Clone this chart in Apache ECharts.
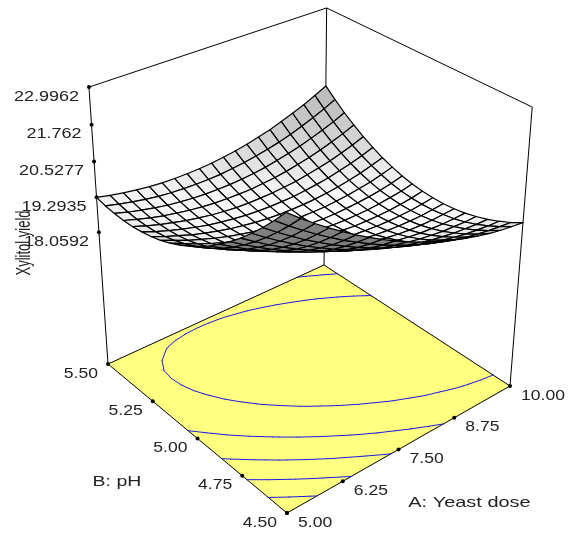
<!DOCTYPE html>
<html><head><meta charset="utf-8">
<style>html,body{margin:0;padding:0;background:#fff}#c{width:573px;height:536px}</style>
<script src="https://cdn.jsdelivr.net/npm/echarts@6/dist/echarts.min.js"></script>
</head><body><div id="c"></div>
<script>
const zTickLabels = ['18.0592','19.2935','20.5277','21.762','22.9962'];
const aTickLabels = ['5.00','6.25','7.50','8.75','10.00'];
const bTickLabels = ['4.50','4.75','5.00','5.25','5.50'];
const contourLevels = [18.82,19.70,20.53,21.35,22.17];
const zAxisFloor = 13.1226, zAxisTop = 22.9962;
// Xylitol yield: one row per pH step (4.50 -> 5.50), one column per yeast dose step (5 -> 10)
const yieldRows = [
[22.97,22.61,22.27,21.95,21.65,21.36,21.09,20.84,20.60,20.38,20.18,20.00,19.83,19.68,19.55,19.43,19.33,19.25,19.19,19.14],
[22.51,22.16,21.84,21.53,21.24,20.96,20.71,20.47,20.24,20.04,19.85,19.68,19.52,19.39,19.27,19.16,19.08,19.01,18.96,18.92],
[22.07,21.74,21.43,21.13,20.86,20.59,20.35,20.12,19.91,19.72,19.55,19.39,19.25,19.12,19.02,18.93,18.85,18.80,18.76,18.74],
[21.67,21.35,21.05,20.77,20.50,20.26,20.02,19.81,19.61,19.43,19.27,19.13,19.00,18.89,18.79,18.72,18.66,18.62,18.59,18.58],
[21.29,20.99,20.70,20.43,20.18,19.95,19.73,19.53,19.34,19.18,19.03,18.90,18.78,18.68,18.60,18.54,18.49,18.47,18.45,18.46],
[20.95,20.66,20.39,20.13,19.89,19.67,19.46,19.28,19.11,18.95,18.82,18.70,18.59,18.51,18.44,18.39,18.36,18.34,18.34,18.36],
[20.64,20.36,20.10,19.86,19.63,19.42,19.23,19.05,18.90,18.76,18.63,18.53,18.44,18.37,18.31,18.27,18.25,18.25,18.27,18.30],
[20.35,20.09,19.84,19.61,19.40,19.20,19.02,18.86,18.72,18.59,18.48,18.39,18.31,18.25,18.21,18.19,18.18,18.19,18.22,18.26],
[20.10,19.85,19.61,19.40,19.20,19.01,18.85,18.70,18.57,18.45,18.36,18.28,18.21,18.17,18.14,18.13,18.14,18.16,18.20,18.26],
[19.88,19.64,19.42,19.21,19.02,18.85,18.70,18.57,18.45,18.35,18.26,18.20,18.15,18.11,18.10,18.10,18.12,18.16,18.21,18.28],
[19.68,19.46,19.25,19.06,18.88,18.73,18.59,18.47,18.36,18.27,18.20,18.15,18.11,18.09,18.09,18.10,18.14,18.19,18.25,18.34],
[19.52,19.31,19.11,18.93,18.77,18.63,18.50,18.39,18.30,18.23,18.17,18.13,18.10,18.10,18.11,18.14,18.18,18.24,18.32,18.42],
[19.38,19.19,19.00,18.84,18.69,18.56,18.45,18.35,18.27,18.21,18.17,18.14,18.13,18.13,18.16,18.20,18.26,18.33,18.43,18.54],
[19.28,19.09,18.93,18.77,18.64,18.52,18.42,18.34,18.27,18.22,18.19,18.18,18.18,18.20,18.24,18.29,18.36,18.45,18.56,18.68],
[19.21,19.03,18.88,18.74,18.62,18.51,18.43,18.36,18.30,18.27,18.25,18.25,18.26,18.30,18.35,18.41,18.50,18.60,18.72,18.86],
[19.16,19.00,18.86,18.74,18.63,18.54,18.46,18.40,18.36,18.34,18.34,18.35,18.38,18.42,18.49,18.57,18.66,18.78,18.91,19.06],
[19.15,19.00,18.87,18.76,18.67,18.59,18.53,18.48,18.46,18.45,18.45,18.48,18.52,18.58,18.66,18.75,18.86,18.99,19.13,19.30],
[19.17,19.03,18.92,18.82,18.73,18.67,18.62,18.59,18.58,18.58,18.60,18.64,18.69,18.77,18.86,18.96,19.09,19.23,19.38,19.56],
[19.21,19.09,18.99,18.90,18.83,18.78,18.75,18.73,18.73,18.74,18.78,18.83,18.90,18.98,19.08,19.20,19.34,19.50,19.67,19.86],
[19.29,19.18,19.09,19.02,18.96,18.92,18.90,18.90,18.91,18.94,18.99,19.05,19.13,19.23,19.34,19.48,19.63,19.79,19.98,20.18]
];

const N = yieldRows.length - 1;
const wOf = z => (z - zAxisFloor) / (zAxisTop - zAxisFloor);
// perspective camera of the 3D box: u along A, v along B, w along the response axis
function project(u, v, w) {
  const d = 0.1202*u + 0.1359*v + 1 - 0.105*w;
  return [(284.3*u - 164.3*v + 287 - 31*w)/d, (-80.6*u - 99.53*v + 513 - 323.7*w)/d];
}
const lerp = (a,b,t) => [a[0]+(b[0]-a[0])*t, a[1]+(b[1]-a[1])*t];

// surface quads, far corner first
const quads = [];
for (let i = N-1; i >= 0; i--) for (let j = N-1; j >= 0; j--) {
  const c = [[i,j],[i+1,j],[i+1,j+1],[i,j+1]].map(([a,b]) => project(a/N, b/N, wOf(yieldRows[b][a])));
  let area = 0;
  for (let k=0;k<4;k++){const p=c[k],q=c[(k+1)%4];area+=p[0]*q[1]-q[0]*p[1];}
  const dzu = ((yieldRows[j][i+1]+yieldRows[j+1][i+1])-(yieldRows[j][i]+yieldRows[j+1][i]))*N/2;
  const dzv = ((yieldRows[j+1][i]+yieldRows[j+1][i+1])-(yieldRows[j][i]+yieldRows[j][i+1]))*N/2;
  const cos = 1/Math.sqrt(1+(dzu*dzu+dzv*dzv)/60);
  const g = Math.round(255*cos);
  quads.push({c, fill: area > 0 ? '#808080' : `rgb(${g},${g},${g})`});
}

// contour segments on the floor, from the same table
const segments = [];
contourLevels.forEach(L => {
  for (let i=0;i<N;i++) for (let j=0;j<N;j++){
    const cs=[[i,j],[i+1,j],[i+1,j+1],[i,j+1]], pts=[];
    for(let k=0;k<4;k++){
      const a=cs[k],b=cs[(k+1)%4],za=yieldRows[a[1]][a[0]],zb=yieldRows[b[1]][b[0]];
      if((za<L)!==(zb<L)){const t=(L-za)/(zb-za);pts.push(project((a[0]+(b[0]-a[0])*t)/N,(a[1]+(b[1]-a[1])*t)/N,0));}
    }
    if(pts.length>=2)segments.push([pts[0],pts[1]]);
    if(pts.length===4)segments.push([pts[2],pts[3]]);
  }
});

const F=project(0,0,0),R=project(1,0,0),L0=project(0,1,0),B0=project(1,1,0);
const boxEdges=[[[0,1,0],[0,1,1]],[[1,0,0],[1,0,1]],[[1,1,0],[1,1,1]],[[0,1,1],[1,1,1]],[[1,1,1],[1,0,1]]]
  .map(e=>e.map(p=>project(...p)));

const dots=[], texts=[];
const txt=(s,p,dx,dy,align,sx)=>texts.push({s,x:p[0]+dx,y:p[1]+dy,align,sx,rot:0,size:15});
zTickLabels.forEach((s,k)=>{
  const p=project(0,1,wOf(+s)); dots.push(p); txt(s,p,-10,9.5,'right',1.2);
});
aTickLabels.forEach((s,k)=>{
  const p=lerp(F,R,k/(aTickLabels.length-1)); dots.push(p); txt(s,p,11,9.5,'left',1.17);
});
bTickLabels.forEach((s,k)=>{
  const p=lerp(F,L0,k/(bTickLabels.length-1)); dots.push(p); txt(s,p,-10,9.5,'right',1.17);
});
texts.push({s:'A: Yeast dose',x:469.5,y:503,align:'center',sx:1.33,rot:0,size:15});
texts.push({s:'B: pH',x:117,y:482,align:'center',sx:1.3,rot:0,size:15});
texts.push({s:'Xylitol yield',x:24,y:243,align:'center',sx:0.65,rot:Math.PI/2,size:20});

const poly=(api,pts,style)=>({type:'polygon',shape:{points:pts.map(p=>api.coord(p))},style});
const custom=(data,renderItem)=>({type:'custom',coordinateSystem:'cartesian2d',clip:false,silent:true,animation:false,
  data:data.map((_,i)=>[i,0]),encode:{x:0,y:1},renderItem});

const chart=echarts.init(document.getElementById('c'),null,{renderer:'canvas'});
chart.setOption({
  animation:false,backgroundColor:'#fff',
  grid:{left:0,right:0,top:0,bottom:0},
  xAxis:{type:'value',min:0,max:573,show:false},
  yAxis:{type:'value',min:0,max:536,inverse:true,show:false},
  series:[
    custom([0],(p,api)=>poly(api,[F,R,B0,L0],{fill:'#FFFF80',stroke:'#000',lineWidth:1})),
    custom(segments,(p,api)=>{const s=segments[p.dataIndex],a=api.coord(s[0]),b=api.coord(s[1]);
      return {type:'line',shape:{x1:a[0],y1:a[1],x2:b[0],y2:b[1]},style:{stroke:'#1c1ce6',lineWidth:1,lineCap:'round'}};}),
    custom(boxEdges,(p,api)=>{const s=boxEdges[p.dataIndex],a=api.coord(s[0]),b=api.coord(s[1]);
      return {type:'line',shape:{x1:a[0],y1:a[1],x2:b[0],y2:b[1]},style:{stroke:'#000',lineWidth:1}};}),
    custom(quads,(p,api)=>{const q=quads[p.dataIndex];return poly(api,q.c,{fill:q.fill,stroke:'#000',lineWidth:1.2,lineJoin:'round'});}),
    custom(dots,(p,api)=>{const c=api.coord(dots[p.dataIndex]);return {type:'circle',shape:{cx:c[0],cy:c[1],r:2},style:{fill:'#000'}};}),
    custom(texts,(p,api)=>{const t=texts[p.dataIndex],c=api.coord([t.x,t.y]);
      return {type:'text',x:c[0],y:c[1],scaleX:t.sx,scaleY:1,rotation:t.rot,
        style:{text:t.s,fill:'#222',font:t.size+'px "Liberation Sans", Arial, sans-serif',textAlign:t.align,textVerticalAlign:'middle'}};})
  ]
});
</script></body></html>
